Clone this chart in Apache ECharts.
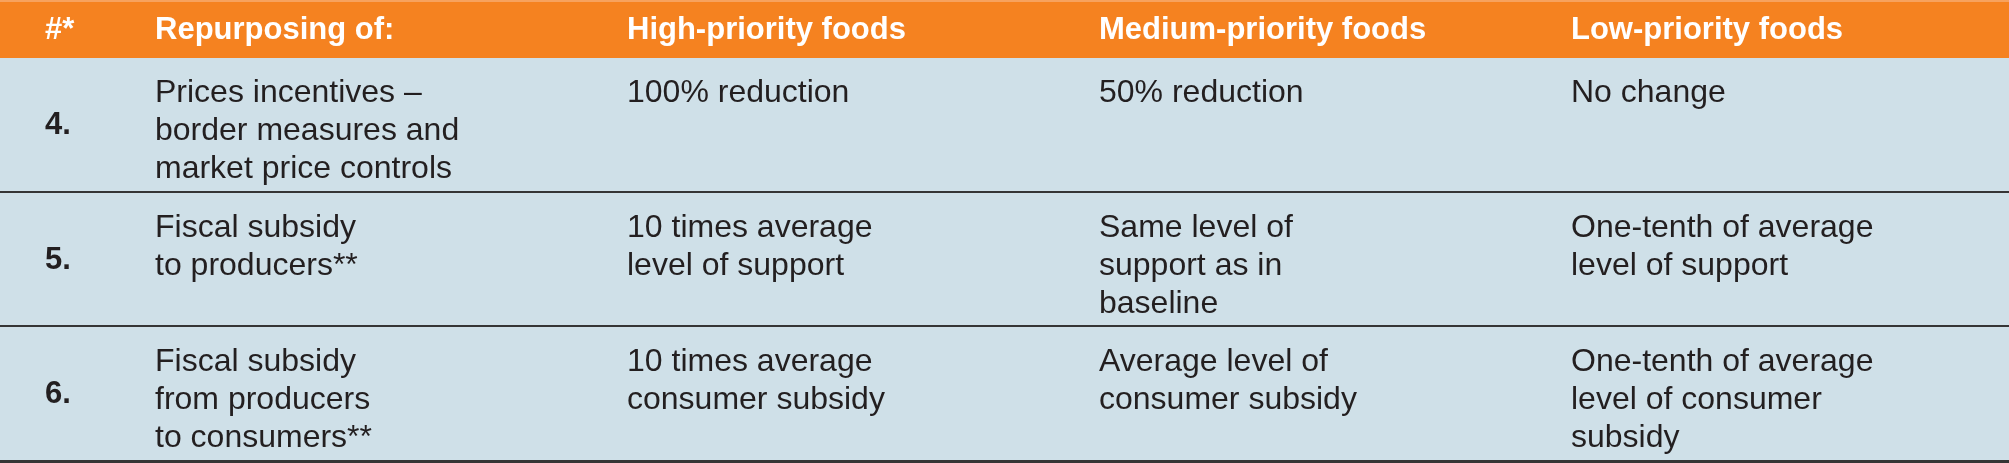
<!DOCTYPE html>
<html>
<head>
<meta charset="utf-8">
<script src="https://cdn.jsdelivr.net/npm/echarts@6/dist/echarts.min.js"></script>
<style>
html,body{margin:0;padding:0;background:#ffffff;}
#chart{width:2009px;height:463px;}
</style>
</head>
<body>
<div id="chart"></div>
<script>
// ---- table content ----
const columnHeaders = ['#*', 'Repurposing of:', 'High-priority foods', 'Medium-priority foods', 'Low-priority foods'];
const rowNumbers = ['4.', '5.', '6.'];
const repurposing = [
  'Prices incentives \u2013\nborder measures and\nmarket price controls',
  'Fiscal subsidy\nto producers**',
  'Fiscal subsidy\nfrom producers\nto consumers**'
];
const highPriority = [
  '100% reduction',
  '10 times average\nlevel of support',
  '10 times average\nconsumer subsidy'
];
const mediumPriority = [
  '50% reduction',
  'Same level of\nsupport as in\nbaseline',
  'Average level of\nconsumer subsidy'
];
const lowPriority = [
  'No change',
  'One-tenth of average\nlevel of support',
  'One-tenth of average\nlevel of consumer\nsubsidy'
];

// ---- layout (positions in axis units = page pixels) ----
const W = 2009, H = 463;
const colTextX = [45, 155, 627, 1099, 1571];
const rowEdges = [0, 58, 193, 327, 462];

const FONT = '"Liberation Sans", Arial, sans-serif';
const ORANGE = '#F58220';
const BODY_BG = '#CFE0E8';
const TEXT = '#231F20';
const RULE = '#353535';

const bodyColumns = [rowNumbers, repurposing, highPriority, mediumPriority, lowPriority];

// cells: [col, row, text]
const cellData = [];
columnHeaders.forEach((t, c) => cellData.push([c, 0, t]));
for (let r = 0; r < rowNumbers.length; r++) {
  bodyColumns.forEach((arr, c) => cellData.push([c, r + 1, arr[r]]));
}
const rowData = rowEdges.slice(0, -1).map((e, i) => [i]);

const chart = echarts.init(document.getElementById('chart'), null, {renderer: 'canvas'});
chart.setOption({
  animation: false,
  backgroundColor: '#ffffff',
  grid: {left: 0, right: 0, top: 0, bottom: 0},
  xAxis: {type: 'value', min: 0, max: W, show: false},
  yAxis: {type: 'value', min: 0, max: H, inverse: true, show: false},
  series: [
    {
      type: 'custom',
      silent: true,
      data: rowData,
      renderItem: function (params, api) {
        const r = api.value(0);
        const p0 = api.coord([0, rowEdges[r]]);
        const p1 = api.coord([W, rowEdges[r + 1]]);
        const children = [{
          type: 'rect',
          shape: {x: p0[0], y: p0[1], width: p1[0] - p0[0], height: p1[1] - p0[1]},
          style: {fill: r === 0 ? ORANGE : BODY_BG}
        }];
        if (r === 0) {
          children.push({type: 'rect', shape: {x: p0[0], y: p0[1], width: p1[0] - p0[0], height: 2}, style: {fill: '#F7A25E'}});
        } else {
          children.push({type: 'rect', shape: {x: p0[0], y: p1[1] - 2, width: p1[0] - p0[0], height: 3}, style: {fill: RULE}});
        }
        return {type: 'group', children: children};
      }
    },
    {
      type: 'custom',
      silent: true,
      data: cellData,
      renderItem: function (params, api) {
        const c = api.value(0), r = api.value(1);
        const text = cellData[params.dataIndex][2];
        const header = r === 0;
        const num = !header && c === 0;
        const top = rowEdges[r], bottom = rowEdges[r + 1];
        let y, va;
        if (header || num) { y = (top + bottom) / 2 + (header ? 1 : 0); va = 'middle'; }
        else { y = top + 16; va = 'top'; }
        const p = api.coord([colTextX[c], y]);
        return {
          type: 'text',
          style: {
            text: text,
            x: p[0], y: p[1],
            verticalAlign: va,
            align: 'left',
            fill: header ? '#ffffff' : TEXT,
            fontFamily: FONT,
            fontSize: (header || num) ? 31 : 32,
            fontWeight: (header || num) ? 'bold' : 'normal',
            lineHeight: 38
          }
        };
      }
    }
  ]
});
</script>
</body>
</html>
